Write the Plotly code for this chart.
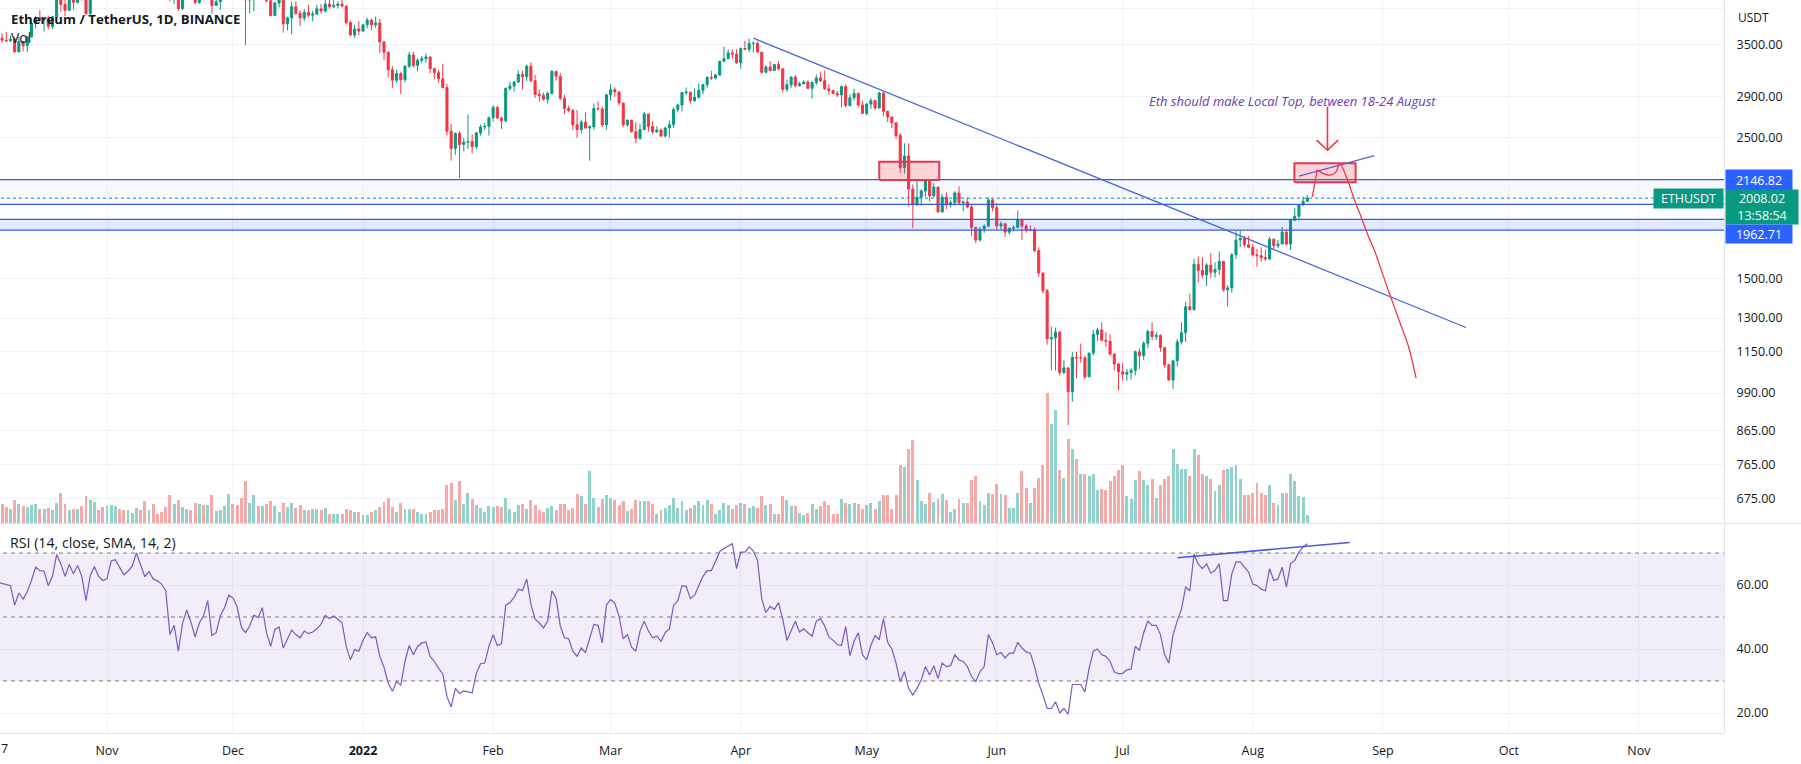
import math
import pandas as pd
import plotly.graph_objects as go

# ---------------------------------------------------------------- data
dates = pd.date_range("2021-10-06", "2022-08-14", freq="D")
first_open = 3520.0

close = [
    3588, 3562, 3556, 3575, 3415, 3545, 3490, 3605, 3790, 3865, 3830, 3845, 3745, 3877, 4155, 4055, 3970, 4170, 4085, 4217, 4130, 3925, 4285, 4415, 4325, 4290,
    4320, 4590, 4605, 4530, 4475, 4520, 4610, 4810, 4730, 4635, 4725, 4665, 4645, 4625, 4560, 4215, 4290, 3995, 4305, 4440, 4265, 4085, 4335, 4270, 4520, 4040, 4095, 4290, 4440, 4630,
    4590, 4515, 4220, 4120, 4195, 4350, 4310, 4435, 4110, 3895, 4075, 4130, 3780, 3860, 4020, 3925, 3860, 3940, 3900, 3915, 3990, 3960, 4060, 4020, 4040, 4060, 4030, 3795, 3630, 3710, 3680,
    3765, 3830, 3765, 3790, 3540, 3410, 3200, 3080, 3155, 3085, 3240, 3375, 3250, 3310, 3330, 3350, 3212, 3165, 3095, 3000, 2560, 2405, 2540, 2440, 2460, 2465, 2420, 2545, 2600, 2605, 2688,
    2790, 2685, 2660, 2990, 3015, 3060, 3145, 3120, 3240, 3075, 2925, 2915, 2875, 2935, 3180, 3125, 2885, 2780, 2760, 2620, 2575, 2645, 2590, 2600, 2780, 2775, 2620, 2920,
    2975, 2950, 2835, 2620, 2665, 2555, 2495, 2575, 2725, 2605, 2555, 2570, 2515, 2590, 2620, 2770, 2815, 2945, 2950, 2860, 2895, 2970, 3030, 3110, 3105, 3140, 3300, 3330, 3400, 3385, 3280,
    3455, 3445, 3520, 3520, 3410, 3170, 3230, 3190, 3260, 3210, 2980, 3030, 3115, 3020, 3040, 3060, 2990, 3055, 3105, 3075, 2985, 2965, 2935, 2920, 3010, 2810, 2890, 2935, 2815, 2730,
    2825, 2860, 2785, 2940, 2750, 2695, 2640, 2520, 2245, 2340, 2075, 1960, 2015, 2060, 2145, 2025, 2090, 1910, 2015, 1960, 1975, 2045, 1975, 1980, 1945, 1805, 1725, 1795, 1815, 1995, 1940,
    1815, 1830, 1775, 1800, 1805, 1860, 1815, 1790, 1790, 1660, 1530, 1435, 1205, 1210, 1235, 1067, 1085, 995, 1127, 1125, 1125, 1050, 1145, 1225, 1245, 1199, 1195, 1140, 1100, 1070,
    1060, 1067, 1075, 1150, 1134, 1186, 1238, 1215, 1220, 1168, 1097, 1038, 1113, 1192, 1232, 1354, 1340, 1580, 1545, 1520, 1575, 1535, 1550, 1596, 1440, 1450, 1635, 1725, 1735, 1695, 1680,
    1635, 1630, 1618, 1610, 1730, 1690, 1700, 1775, 1700, 1853, 1880, 1958, 1985, 2008.02,
]

high = [
    3620, 3652, 3670, 3625, 3600, 3610, 3550, 3610, 3815, 3890, 3970, 3870, 3895, 3885, 4190, 4375, 4170, 4180, 4175, 4220, 4290, 4300, 4300, 4460, 4420, 4380,
    4385, 4600, 4665, 4630, 4580, 4530, 4640, 4825, 4840, 4870, 4780, 4810, 4705, 4690, 4775, 4560, 4300, 4345, 4320, 4440, 4455, 4280, 4375, 4370, 4550, 4550, 4170, 4300, 4470, 4770,
    4780, 4630, 4650, 4235, 4230, 4370, 4430, 4445, 4460, 4190, 4095, 4185, 4130, 3880, 4090, 4100, 3970, 3990, 4050, 3960, 4050, 4060, 4135, 4120, 4130, 4100, 4125, 4040, 3825, 3765, 3815,
    3770, 3860, 3850, 3880, 3850, 3550, 3415, 3240, 3200, 3175, 3255, 3415, 3415, 3335, 3365, 3395, 3360, 3220, 3195, 3270, 3040, 2630, 2550, 2560, 2500, 2720, 2530, 2550, 2620, 2640, 2700,
    2815, 2805, 2700, 3000, 3065, 3070, 3190, 3190, 3260, 3285, 3140, 2980, 2945, 2960, 3195, 3185, 3160, 2920, 2810, 2775, 2765, 2670, 2740, 2615, 2830, 2850, 2800, 2935,
    3040, 3000, 2965, 2840, 2670, 2665, 2645, 2630, 2745, 2725, 2655, 2605, 2585, 2600, 2660, 2790, 2830, 2950, 3000, 2950, 2990, 3045, 3040, 3125, 3185, 3150, 3300, 3480, 3445, 3445, 3445,
    3470, 3555, 3580, 3550, 3545, 3410, 3255, 3300, 3265, 3300, 3215, 3085, 3125, 3140, 3060, 3080, 3080, 3065, 3145, 3170, 3190, 3035, 2975, 2965, 3020, 3035, 2925, 2985, 2945, 2860,
    2835, 2890, 2870, 2955, 2950, 2760, 2700, 2640, 2545, 2450, 2450, 2110, 2140, 2075, 2150, 2145, 2120, 2090, 2040, 2050, 1990, 2060, 2095, 1990, 2010, 1965, 1810, 1810, 1825, 2015, 2005,
    1970, 1845, 1835, 1805, 1820, 1920, 1860, 1830, 1820, 1805, 1680, 1535, 1445, 1260, 1255, 1240, 1115, 1080, 1150, 1150, 1185, 1135, 1145, 1245, 1255, 1280, 1235, 1225, 1145, 1105,
    1105, 1080, 1085, 1155, 1165, 1195, 1245, 1280, 1235, 1225, 1170, 1100, 1115, 1205, 1280, 1380, 1420, 1610, 1625, 1620, 1585, 1645, 1590, 1655, 1600, 1465, 1645, 1785, 1785, 1750, 1750,
    1700, 1670, 1680, 1665, 1745, 1735, 1725, 1810, 1790, 1865, 1940, 1960, 2020, 2030,
]

low = [
    3380, 3530, 3535, 3535, 3400, 3405, 3420, 3410, 3600, 3715, 3810, 3675, 3705, 3710, 3840, 3945, 3885, 3955, 3980, 4070, 4110, 3900, 3900, 4265, 4260, 4150,
    4150, 4295, 4480, 4445, 4450, 4330, 4505, 4600, 4710, 4460, 4620, 4510, 4580, 4540, 4550, 4100, 4060, 3960, 3970, 4220, 4255, 4055, 4060, 4165, 4250, 3920, 4030, 3975, 4280, 4380,
    4520, 4430, 4145, 3500, 3925, 3950, 4280, 4215, 4080, 3880, 3890, 4010, 3660, 3690, 3640, 3900, 3750, 3820, 3870, 3815, 3900, 3920, 3935, 3990, 4000, 3995, 4010, 3770, 3610, 3590, 3625,
    3680, 3720, 3695, 3725, 3400, 3315, 3110, 2995, 3050, 2930, 3055, 3220, 3225, 3180, 3275, 3280, 3160, 3090, 3055, 2990, 2520, 2300, 2350, 2160, 2380, 2400, 2360, 2400, 2520, 2570, 2520,
    2650, 2675, 2580, 2645, 2965, 2955, 3050, 2980, 3070, 3055, 2890, 2850, 2860, 2830, 2925, 3075, 2865, 2725, 2740, 2570, 2500, 2540, 2580, 2300, 2575, 2760, 2600, 2575,
    2860, 2900, 2810, 2600, 2600, 2545, 2450, 2480, 2570, 2555, 2535, 2545, 2510, 2505, 2500, 2590, 2740, 2750, 2920, 2830, 2845, 2880, 2925, 2995, 3080, 3090, 3125, 3290, 3325, 3330, 3270,
    3210, 3440, 3410, 3405, 3410, 3155, 3160, 3180, 3185, 3190, 2950, 2950, 2995, 3000, 3010, 3030, 2985, 2880, 3025, 3060, 2975, 2925, 2925, 2900, 2790, 2790, 2800, 2860, 2790, 2725,
    2710, 2775, 2765, 2780, 2705, 2645, 2590, 2490, 2200, 2195, 1950, 1800, 1955, 1955, 2020, 1985, 2015, 1905, 1905, 1930, 1940, 1955, 1960, 1915, 1935, 1750, 1705, 1715, 1770, 1805, 1915,
    1790, 1790, 1745, 1760, 1780, 1800, 1725, 1770, 1780, 1650, 1510, 1420, 1180, 1075, 1075, 1055, 1060, 882, 960, 1045, 1105, 1040, 1050, 1135, 1195, 1195, 1170, 1135, 1075, 1000,
    1035, 1035, 1040, 1055, 1080, 1115, 1165, 1200, 1200, 1150, 1085, 1035, 1005, 1090, 1180, 1192, 1335, 1335, 1480, 1500, 1460, 1505, 1505, 1520, 1430, 1356, 1425, 1610, 1680, 1680, 1675,
    1625, 1565, 1595, 1600, 1605, 1670, 1675, 1700, 1690, 1665, 1850, 1855, 1955, 1980,
]

volume_k = [
    438, 336, 288, 258, 408, 348, 300, 288, 330, 348, 258, 258, 276, 240, 366, 546, 336, 240, 258, 258,
    300, 480, 420, 384, 240, 294, 300, 330, 312, 258, 228, 240, 186, 276, 228, 390, 228, 336, 168, 192,
    288, 498, 336, 408, 294, 258, 240, 366, 348, 318, 318, 498, 216, 240, 300, 516, 348, 318, 456, 750,
    366, 498, 300, 300, 336, 390, 300, 198, 366, 288, 366, 270, 330, 240, 228, 258, 246, 228, 276, 168,
    168, 156, 168, 258, 228, 192, 198, 138, 138, 192, 228, 282, 378, 456, 288, 198, 366, 258, 258, 246,
    198, 156, 168, 198, 228, 234, 258, 690, 726, 408, 750, 348, 546, 438, 330, 276, 198, 312, 288, 300,
    288, 456, 258, 198, 318, 348, 258, 408, 330, 240, 198, 276, 312, 240, 348, 348, 228, 276, 516, 480,
    348, 930, 456, 288,
    438, 498, 456, 420, 318, 390, 210, 246, 420, 390, 390, 390, 348, 168, 228, 276, 330, 456, 276, 390,
    240, 276, 330, 390, 318, 408, 348, 168, 240, 366, 318, 258, 318, 366, 348, 276, 312, 276, 486, 318,
    348, 168, 168, 480, 408, 300, 300, 186, 138, 186, 348, 258, 300, 390, 318, 156, 168, 426, 366, 348,
    366, 348, 258, 318, 366, 258, 390, 498, 498, 258, 510, 1038, 1008, 1326, 1500, 768, 390, 348, 540, 378,
    438, 516, 408, 198, 258, 438, 366, 366, 780, 846, 390, 318, 546, 516, 696, 528, 510, 270, 270, 546,
    930, 636, 366, 636, 816, 1038, 2346, 1776, 2028, 960, 816, 1518, 1326, 1146, 876, 876, 846, 888, 588, 606,
    588, 750, 846, 948, 1038, 486, 438, 768, 936, 768, 678, 798, 450, 678, 786, 840, 1338, 1056, 966, 978,
    840, 1338, 1218,
    888, 846, 786, 576, 678, 948, 978, 1008, 1038, 798, 498, 498, 546, 726, 546, 498, 678, 366, 318, 546,
    546, 888, 750, 486, 468, 150,
]

rsi = [
    60.8, 60.5, 60.1, 59.8, 53.7, 57.5, 55.6, 57.9, 61.4, 65.6, 64.5, 64.3, 59.8, 62.7, 69.5, 66.6, 62.7, 66.4, 63.5, 66.1,
    62.7, 55.1, 62.9, 65.8, 62.7, 61.4, 61.9, 67.5, 67.9, 65.3, 63.2, 64.3, 65.9, 70.0, 66.3, 62.6, 64.2, 61.9, 61.3, 60.3,
    58.2, 44.5, 47.4, 39.3, 48.0, 52.2, 48.4, 43.8, 48.2, 50.3, 55.1, 44.2, 45.1, 50.3, 52.9, 56.8, 56.0, 53.2, 46.9, 45.1,
    47.2, 50.6, 49.8, 52.9, 45.1, 40.8, 46.1, 46.9, 40.3, 42.9, 45.9, 44.5, 43.5, 45.6, 44.8, 45.3, 46.3, 47.7, 50.5, 49.5,
    50.3, 49.3, 48.2, 40.8, 36.6, 39.8, 39.3, 42.7, 45.1, 43.5, 43.8, 37.7, 34.3, 29.3, 26.8, 29.8, 28.7, 36.1, 41.1, 38.2,
    40.8, 41.9, 42.2, 37.7, 36.1, 34.0, 32.2, 25.1, 21.9, 27.7, 26.1, 26.9, 26.6, 26.3, 32.4, 35.4, 35.6, 40.8, 44.5, 41.1,
    41.6, 53.7, 54.5, 56.1, 58.7, 58.3, 61.9, 54.0, 49.3, 48.2, 46.6, 48.7, 58.2, 55.9, 47.2, 43.5, 43.2, 39.3, 37.7, 40.3,
    38.9, 43.5, 47.7, 47.4, 41.9, 53.8, 55.4, 54.3, 50.3, 43.2, 44.5, 40.6, 39.3, 45.6, 48.7, 45.6, 43.5, 44.0, 42.4, 45.1,
    46.3, 53.7, 55.1, 59.8, 59.5, 55.8, 56.8, 59.8, 62.7, 64.5, 64.5, 67.4, 70.5, 71.4, 72.2, 72.9, 65.1, 70.3, 70.3, 71.9,
    70.6, 67.7, 55.6, 51.4, 53.3, 52.4, 54.5, 49.3, 42.7, 45.6, 48.7, 45.3, 46.3, 45.1, 44.0, 48.7, 49.5, 47.2, 43.8, 42.7,
    41.4, 41.1, 47.0, 37.9, 42.4, 45.1, 38.2, 36.6, 41.1, 44.2, 42.9, 49.5, 42.1, 40.0, 35.6,
    29.8, 32.9, 27.7, 25.6, 27.7, 30.3, 34.5, 31.9, 34.8, 30.8, 35.6, 34.5, 34.8, 38.2, 36.6, 36.1, 34.5, 31.4, 29.8, 32.9,
    34.5, 44.5, 41.9, 38.2, 38.9, 37.2, 38.7, 38.7, 42.1, 40.3, 39.1, 38.7, 34.5, 29.3, 25.6, 21.4, 21.4, 23.5, 20.0, 21.4,
    19.6, 28.9, 28.9, 28.9, 26.6, 34.0, 39.3, 40.0, 38.2, 37.7, 36.1, 32.9, 32.2, 32.4, 33.5, 33.7, 40.8, 39.6, 45.1, 48.7,
    47.4, 47.4, 44.5, 38.2, 35.6, 44.5, 48.7, 52.4, 59.3, 58.2, 69.6, 66.6, 65.1, 66.6, 63.7, 64.5, 66.6, 55.1, 55.1, 63.5,
    67.2, 67.2, 65.6, 64.0, 60.3, 59.8, 58.7, 58.2, 65.1, 61.4, 61.9, 65.6, 59.3, 66.6, 67.7, 70.3, 71.9, 72.9,
]

# axis ticks
price_ticks = [675, 765, 865, 990, 1150, 1300, 1500, 2500, 2900, 3500, 4000]
price_tick_text = ["675.00", "765.00", "865.00", "990.00", "1150.00", "1300.00", "1500.00",
                   "2500.00", "2900.00", "3500.00", ""]
month_ticks = ["2021-11-01", "2021-12-01", "2022-01-01", "2022-02-01", "2022-03-01", "2022-04-01",
               "2022-05-01", "2022-06-01", "2022-07-01", "2022-08-01", "2022-09-01", "2022-10-01", "2022-11-01"]
month_text = ["Nov", "Dec", "<b>2022</b>", "Feb", "Mar", "Apr", "May", "Jun", "Jul", "Aug", "Sep", "Oct", "Nov"]
rsi_ticks = [20, 40, 60]
rsi_tick_text = ["20.00", "40.00", "60.00"]

# user drawings on the chart (dates / prices)
level_prices = [2146.82, 1962.71]
zone_prices = [1859.4, 1788.6]
last_price = 2008.02
trend_dates = ["2022-04-04 00:00", "2022-09-20 19:00"]
trend_prices = [3587, 1256]
box1_dates = ["2022-05-04 00:00", "2022-05-18 07:00"]
box1_prices = [2144, 2291]
box2_dates = ["2022-08-10 22:00", "2022-08-25 12:00"]
box2_prices = [2127, 2278]
top_line_dates = ["2022-08-12 00:00", "2022-08-30 00:00"]
top_line_prices = [2175, 2342]
path_dates = ["2022-08-15 04:00", "2022-08-16 05:00", "2022-08-16 07:00", "2022-08-17 15:00", "2022-08-19 11:00",
              "2022-08-20 20:00", "2022-08-21 18:00", "2022-08-23 14:00", "2022-08-24 23:00", "2022-08-26 19:00",
              "2022-08-28 14:00", "2022-08-30 03:00", "2022-09-01 00:00", "2022-09-02 13:00", "2022-09-04 20:00",
              "2022-09-07 03:00", "2022-09-08 22:00"]
path_prices = [2018, 2197, 2223, 2197, 2183, 2209, 2278, 2144, 2018, 1877, 1746, 1652, 1520, 1422, 1291, 1171, 1045]
arrow_dates = ["2022-08-18 19:00", "2022-08-18 19:00", None, "2022-08-16 05:00", "2022-08-18 19:00", "2022-08-21 08:00"]
arrow_prices = [2797, 2389, None, 2478, 2389, 2478]
rsi_line_dates = ["2022-07-14 02:00", "2022-08-24 02:00"]
rsi_line_values = [68.5, 73.3]
rsi_levels = [70, 50, 30]

# ---------------------------------------------------------------- styling
FONT = "Open Sans"
TXT = "#131722"
UP, DN = "#089981", "#F23645"
VUP, VDN = "#92d2cc", "#f7a9a7"
GRID = "#f0f3fa"
BLUE = "#3a5bd9"
TREND = "#4a68d8"
W, H = 1801, 764
ML, MR, MT, MB = 0, 77, 0, 31
PW, PH = W - ML - MR, H - MT - MB   # 1724 x 733
X_RANGE = ["2021-10-06 12:10", "2022-11-21 06:30"]
FAR = ["2021-09-01", "2022-12-31"]
MAIN_DOM = [1 - 523 / PH, 1.0]
RSI_DOM = [0.0, 1 - 525 / PH]


def px(x):
    return x / PW


def py(y):
    return 1 - y / PH


open_ = [first_open] + close[:-1]
vol_colors = [VUP if c >= o else VDN for o, c in zip(open_, close)]

fig = go.Figure()

# volume (base axis of main pane)
fig.add_trace(go.Bar(x=dates, y=volume_k, width=0.7 * 86400000,
                     marker=dict(color=vol_colors, line=dict(width=0)),
                     xaxis="x", yaxis="y", hoverinfo="skip"))

# blue zones
fig.add_trace(go.Scatter(x=[FAR[0], FAR[1], FAR[1], FAR[0], FAR[0]],
                         y=[level_prices[0], level_prices[0], level_prices[1], level_prices[1], level_prices[0]],
                         fill="toself", fillcolor="rgba(41,98,255,0.035)", line=dict(width=0),
                         mode="lines", xaxis="x", yaxis="y2", hoverinfo="skip"))
fig.add_trace(go.Scatter(x=[FAR[0], FAR[1], FAR[1], FAR[0], FAR[0]],
                         y=[zone_prices[0], zone_prices[0], zone_prices[1], zone_prices[1], zone_prices[0]],
                         fill="toself", fillcolor="rgba(41,98,255,0.14)", line=dict(width=0),
                         mode="lines", xaxis="x", yaxis="y2", hoverinfo="skip"))

# candles
fig.add_trace(go.Candlestick(x=dates, open=open_, high=high, low=low, close=close,
                             increasing=dict(line=dict(color=UP, width=1), fillcolor=UP),
                             decreasing=dict(line=dict(color=DN, width=1), fillcolor=DN),
                             whiskerwidth=0, xaxis="x", yaxis="y2", hoverinfo="skip"))

# horizontal levels
for p in level_prices + zone_prices:
    fig.add_trace(go.Scatter(x=FAR, y=[p, p], mode="lines", line=dict(color=BLUE, width=1.3),
                             xaxis="x", yaxis="y2", hoverinfo="skip"))
fig.add_trace(go.Scatter(x=FAR, y=[last_price, last_price], mode="lines",
                         line=dict(color=UP, width=1, dash="dot"), xaxis="x", yaxis="y2", hoverinfo="skip"))

# trend line
fig.add_trace(go.Scatter(x=trend_dates, y=trend_prices, mode="lines", line=dict(color=TREND, width=1.3),
                         xaxis="x", yaxis="y2", hoverinfo="skip"))

# red boxes
for bd, bp in [(box1_dates, box1_prices), (box2_dates, box2_prices)]:
    fig.add_trace(go.Scatter(x=[bd[0], bd[1], bd[1], bd[0], bd[0]],
                             y=[bp[0], bp[0], bp[1], bp[1], bp[0]],
                             fill="toself", fillcolor="rgba(242,54,69,0.22)",
                             line=dict(color="#e23a52", width=2), mode="lines",
                             xaxis="x", yaxis="y2", hoverinfo="skip"))

fig.add_trace(go.Scatter(x=top_line_dates, y=top_line_prices, mode="lines", line=dict(color="#5a63d0", width=1.3),
                         xaxis="x", yaxis="y2", hoverinfo="skip"))

# projected path + arrow
fig.add_trace(go.Scatter(x=path_dates, y=path_prices, mode="lines",
                         line=dict(color=DN, width=1.3, shape="spline", smoothing=0.8),
                         xaxis="x", yaxis="y2", hoverinfo="skip"))
fig.add_trace(go.Scatter(x=arrow_dates, y=arrow_prices, mode="lines", line=dict(color=DN, width=1.6),
                         connectgaps=False, xaxis="x", yaxis="y2", hoverinfo="skip"))

# RSI pane
fig.add_trace(go.Scatter(x=[FAR[0], FAR[1], FAR[1], FAR[0], FAR[0]], y=[30, 30, 70, 70, 30],
                         fill="toself", fillcolor="rgba(126,87,194,0.10)", line=dict(width=0),
                         mode="lines", xaxis="x2", yaxis="y3", hoverinfo="skip"))
for lv in rsi_levels:
    fig.add_trace(go.Scatter(x=FAR, y=[lv, lv], mode="lines",
                             line=dict(color="#787B86", width=1, dash="4px,4px"),
                             xaxis="x2", yaxis="y3", hoverinfo="skip"))
fig.add_trace(go.Scatter(x=dates, y=rsi, mode="lines", line=dict(color="#7E57C2", width=1.2),
                         xaxis="x2", yaxis="y3", hoverinfo="skip"))
fig.add_trace(go.Scatter(x=rsi_line_dates, y=rsi_line_values, mode="lines", line=dict(color="#4a5bd6", width=1.6),
                         xaxis="x2", yaxis="y3", hoverinfo="skip"))

# ---------------------------------------------------------------- annotations
ann = []
ann.append(dict(text="<b>Ethereum / TetherUS, 1D, BINANCE</b>", x=px(9), y=py(18.5), xref="paper", yref="paper",
                xanchor="left", yanchor="middle", showarrow=False, font=dict(size=13.2, color=TXT, family=FONT)))
ann.append(dict(text="Vol", x=px(9), y=py(38), xref="paper", yref="paper",
                xanchor="left", yanchor="middle", showarrow=False, font=dict(size=14, color=TXT, family=FONT)))
ann.append(dict(text="RSI (14, close, SMA, 14, 2)", x=px(8), y=py(542), xref="paper", yref="paper",
                xanchor="left", yanchor="middle", showarrow=False, font=dict(size=14.2, color=TXT, family=FONT)))
ann.append(dict(text="<i>Eth should make Local Top, between 18-24 August</i>", x=px(1292), y=py(101),
                xref="paper", yref="paper", xanchor="center", yanchor="middle", showarrow=False,
                font=dict(size=13, color="#673AB7", family=FONT)))
ann.append(dict(text="USDT", x=px(1736), y=py(18), xref="paper", yref="paper", xanchor="left", yanchor="middle",
                showarrow=False, font=dict(size=12, color=TXT, family=FONT)))
ann.append(dict(text="7", x=px(4), y=py(748), xref="paper", yref="paper", xanchor="center", yanchor="middle",
                showarrow=False, font=dict(size=12.5, color=TXT, family=FONT)))
# price scale labels
ann.append(dict(text="2146.82", x=px(1725), y=math.log10(level_prices[0]), xref="paper", yref="y2",
                xanchor="left", yanchor="middle", showarrow=False, bgcolor="#2962FF", width=62, height=16,
                borderpad=2, font=dict(size=12.5, color="white", family=FONT)))
ann.append(dict(text="2008.02<br>13:58:54", x=px(1725), y=math.log10(last_price), xref="paper", yref="y2",
                xanchor="left", yanchor="top", yshift=9.5, showarrow=False, bgcolor=UP, width=68, height=30,
                borderpad=2, font=dict(size=12.5, color="white", family=FONT)))
ann.append(dict(text="ETHUSDT", x=px(1724), y=math.log10(last_price), xref="paper", yref="y2",
                xanchor="right", yanchor="middle", showarrow=False, bgcolor=UP, width=65, height=15,
                borderpad=2, font=dict(size=12.5, color="white", family=FONT)))
ann.append(dict(text="1962.71", x=px(1725), y=py(234), xref="paper", yref="paper",
                xanchor="left", yanchor="middle", showarrow=False, bgcolor="#2962FF", width=62, height=14,
                borderpad=2, font=dict(size=12.5, color="white", family=FONT)))

shapes = [dict(type="line", xref="paper", yref="paper", x0=0, x1=W / PW, y0=py(523.5), y1=py(523.5),
               line=dict(color="#e0e3eb", width=1))]

axis_font = dict(size=12.5, color=TXT, family=FONT)
fig.update_layout(
    width=W, height=H, margin=dict(l=ML, r=MR, t=MT, b=MB),
    paper_bgcolor="white", plot_bgcolor="white", showlegend=False,
    font=dict(family=FONT, color=TXT),
    annotations=ann, shapes=shapes, bargap=0,
    xaxis=dict(domain=[0, 1], anchor="y", range=X_RANGE, type="date", tickvals=month_ticks,
               showticklabels=False, ticks="", showgrid=True, gridcolor=GRID, gridwidth=1,
               zeroline=False, showline=False, rangeslider=dict(visible=False), fixedrange=True),
    yaxis=dict(domain=MAIN_DOM, anchor="x", range=[0, 523 * 18], visible=False, showgrid=False,
               fixedrange=True),
    yaxis2=dict(overlaying="y", anchor="x", side="right", type="log",
                range=[math.log10(618.0), math.log10(4120.0)],
                tickvals=price_ticks, ticktext=price_tick_text, tickfont=axis_font,
                ticks="outside", ticklen=9, tickcolor="rgba(0,0,0,0)",
                showgrid=True, gridcolor=GRID, gridwidth=1, zeroline=False,
                showline=True, linecolor="#e0e3eb", linewidth=1, fixedrange=True),
    xaxis2=dict(domain=[0, 1], anchor="y3", range=X_RANGE, type="date", tickvals=month_ticks,
                ticktext=month_text, tickfont=axis_font, ticks="outside", ticklen=6,
                tickcolor="rgba(0,0,0,0)", showgrid=True, gridcolor=GRID, gridwidth=1,
                zeroline=False, showline=True, linecolor="#e0e3eb", linewidth=1, fixedrange=True),
    yaxis3=dict(domain=RSI_DOM, anchor="x2", side="right", range=[13.75, 78.75],
                tickvals=rsi_ticks, ticktext=rsi_tick_text, tickfont=axis_font,
                ticks="outside", ticklen=9, tickcolor="rgba(0,0,0,0)",
                showgrid=True, gridcolor=GRID, gridwidth=1, zeroline=False,
                showline=True, linecolor="#e0e3eb", linewidth=1, fixedrange=True),
)

fig.write_html("out.html", config={"displayModeBar": False, "staticPlot": True},
               post_script="document.body.style.margin='0px';document.body.style.overflow='hidden';")
